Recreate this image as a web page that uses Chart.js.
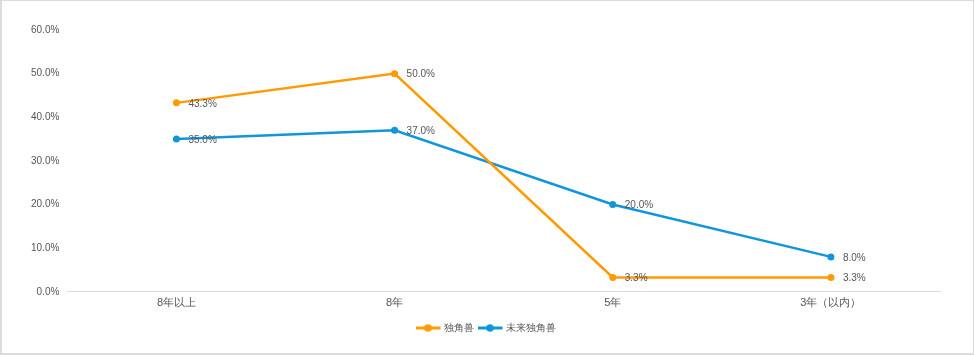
<!DOCTYPE html>
<html><head><meta charset="utf-8">
<script src="https://cdn.jsdelivr.net/npm/chart.js@4/dist/chart.umd.min.js"></script>
<style>
html,body{margin:0;padding:0;background:#fff;}
#wrap{width:974px;height:355px;box-sizing:border-box;border:2px solid #dcdcdc;border-right-width:1px;border-top-width:1px;background:#fff;}
#wrap canvas{display:block;}
</style></head>
<body><div id="wrap"><canvas id="c" width="971" height="352"></canvas></div>
<script>
const categories = ["8年以上", "8年", "5年", "3年（以内）"];
const seriesNames = ["独角兽", "未来独角兽"];
const unicorn = [0.433, 0.50, 0.033, 0.033];
const futureUnicorn = [0.35, 0.37, 0.20, 0.08];
const yTicks = [0, 0.1, 0.2, 0.3, 0.4, 0.5, 0.6];
const colors = ["#FF9A00", "#1196DB"];
const FONT = '"Liberation Sans", Arial, sans-serif';

function legendIcon(color){
  const c = document.createElement('canvas');
  c.width = 27; c.height = 8;
  const g = c.getContext('2d');
  g.strokeStyle = color; g.lineWidth = 3;
  g.beginPath(); g.moveTo(0,4); g.lineTo(25,4); g.stroke();
  g.fillStyle = color; g.beginPath(); g.arc(12.5,4,3.8,0,Math.PI*2); g.fill();
  return c;
}
const icons = colors.map(legendIcon);

const labelPlugin = {
  id: 'pctLabels',
  afterLayout(chart){
    if (chart.legend) { chart.legend.left += 6; chart.legend.right += 6; }
  },
  afterDatasetsDraw(chart){
    const ctx = chart.ctx;
    ctx.save();
    ctx.font = '10px ' + FONT;
    ctx.fillStyle = '#555';
    ctx.textAlign = 'left';
    ctx.textBaseline = 'middle';
    chart.data.datasets.forEach((ds, i) => {
      chart.getDatasetMeta(i).data.forEach((pt, j) => {
        ctx.fillText((ds.data[j]*100).toFixed(1) + '%', pt.x + 12, pt.y + 1);
      });
    });
    ctx.restore();
  }
};

new Chart(document.getElementById('c'), {
  type: 'line',
  data: {
    labels: categories,
    datasets: [
      {label: seriesNames[0], data: unicorn, borderColor: colors[0], backgroundColor: colors[0], borderWidth: 2.5, pointRadius: 3.5, pointBackgroundColor: colors[0], pointBorderWidth: 0, pointStyle: 'circle', tension: 0},
      {label: seriesNames[1], data: futureUnicorn, borderColor: colors[1], backgroundColor: colors[1], borderWidth: 2.5, pointRadius: 3.5, pointBackgroundColor: colors[1], pointBorderWidth: 0, pointStyle: 'circle', tension: 0}
    ]
  },
  options: {
    responsive: false,
    animation: false,
    layout: {padding: {left: 21, right: 33, top: 29, bottom: 10}},
    plugins: {
      legend: {
        position: 'bottom',
        labels: {
          usePointStyle: true, pointStyleWidth: 19, color: '#555', font: {size: 10, family: FONT}, padding: 8, boxHeight: 8,
          generateLabels(chart){
            const items = Chart.defaults.plugins.legend.labels.generateLabels(chart);
            items.forEach((it, i) => { it.pointStyle = icons[i]; });
            return items;
          }
        }
      },
      tooltip: {enabled: false}
    },
    scales: {
      x: {
        offset: true,
        grid: {display: false, drawTicks: false},
        border: {display: true, color: '#d9d9d9', width: 1},
        ticks: {color: '#555', font: {size: 11, family: FONT}, padding: 5}
      },
      y: {
        min: 0, max: 0.6,
        afterBuildTicks(axis){ axis.ticks = yTicks.map(v => ({value: v})); },
        grid: {display: false, drawTicks: false},
        border: {display: false},
        ticks: {color: '#555', font: {size: 10, family: FONT}, padding: 8, callback: v => (v*100).toFixed(1) + '%'}
      }
    }
  },
  plugins: [labelPlugin]
});
</script>
</body></html>
